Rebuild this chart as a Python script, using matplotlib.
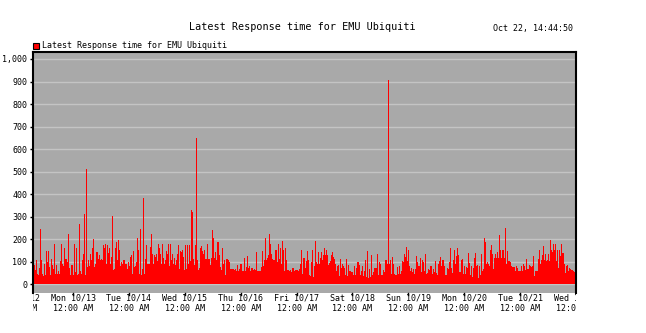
import matplotlib
matplotlib.use("Agg")
import matplotlib.pyplot as plt
from matplotlib.patches import Rectangle
from matplotlib.transforms import Bbox, TransformedBbox
from matplotlib.ticker import FuncFormatter

# response time samples (ms), read left to right off the chart
seg_sun_mon = [65, 85, 65, 107, 45, 40, 75, 245, 107, 48, 37, 90, 40, 150, 100, 147,
               77, 40, 115, 85, 70, 180, 48, 85, 48, 62, 45, 103, 180, 90, 80, 163,
               115, 115, 100, 223, 75, 40, 85, 40, 180, 55, 163, 40, 48, 270, 62, 45,
               107, 137, 312, 40, 510, 77, 110, 80, 134, 107, 160, 200, 77, 90, 143, 143,
               115, 130, 110, 115, 107, 177, 163, 180, 92, 174, 140, 160, 92, 122, 303, 65,
               70, 163, 189, 110, 199, 155, 80, 100, 92, 107, 107, 90, 90, 70, 100, 80,
               122, 130, 45, 150, 77, 80, 100, 204, 155, 45, 245, 40]
seg_tue_wed = [67, 383, 48, 115, 174, 90, 92, 167, 223, 137, 92, 130, 122, 137, 104, 179,
               160, 134, 90, 179, 119, 92, 107, 149, 134, 180, 80, 180, 110, 134, 90, 119,
               85, 107, 134, 174, 70, 149, 144, 152, 122, 65, 174, 70, 174, 90, 174, 104,
               330, 323, 115, 85, 174, 650, 107, 65, 75, 163, 170, 149, 137, 155, 115, 115,
               179, 115, 113, 85, 119, 241, 204, 119, 144, 107, 189, 189, 130, 77, 65, 163,
               92, 110, 40, 115, 107, 100, 70, 70, 70, 70, 65, 70, 62, 85, 62, 70,
               90, 90, 60, 60, 117, 60, 77, 125, 75, 80]
seg_thu_fri = [62, 75, 75, 65, 70, 65, 143, 60, 62, 62, 62, 77, 149, 80, 110, 208,
               110, 119, 130, 226, 179, 137, 115, 110, 110, 155, 152, 100, 179, 115, 160, 92,
               192, 155, 62, 160, 110, 65, 65, 62, 65, 55, 75, 75, 62, 65, 65, 65,
               58, 70, 92, 152, 45, 119, 75, 104, 149, 110, 40, 36, 100, 152, 33, 80,
               192, 100, 90, 143, 90, 119, 144, 107, 130, 160, 130, 152, 130, 85, 95, 103,
               130, 144, 122, 115, 90, 62, 80, 85, 36, 115, 75, 90, 80, 75, 40, 115,
               36, 85, 62, 60, 55, 55, 40, 80, 40, 75, 100]
seg_sat_sun = [100, 85, 40, 62, 80, 36, 58, 110, 33, 147, 30, 70, 33, 132, 40, 55,
               75, 75, 75, 134, 40, 100, 90, 40, 65, 55, 107, 110, 92, 905, 92, 110,
               45, 122, 92, 48, 40, 43, 77, 48, 80, 45, 60, 104, 100, 137, 122, 167,
               104, 155, 80, 62, 75, 55, 70, 48, 70, 125, 100, 80, 80, 119, 55, 107,
               100, 62, 137, 48, 51, 70, 65, 80, 80, 45, 70, 55, 104, 51, 40, 92,
               104, 122, 80, 107, 110, 80, 40, 40, 75, 70, 100, 160, 75, 51, 107, 155,
               92, 125, 163, 130, 55, 107, 115, 48, 80, 48, 77]
seg_mon_wed = [75, 140, 95, 40, 80, 33, 75, 119, 140, 80, 85, 30, 80, 40, 134, 62,
               70, 208, 189, 90, 100, 90, 80, 152, 174, 134, 70, 119, 134, 119, 144, 119,
               219, 155, 119, 155, 152, 119, 249, 92, 149, 104, 104, 100, 80, 77, 77, 77,
               62, 80, 75, 62, 62, 62, 80, 62, 90, 80, 65, 112, 70, 70, 85, 80,
               77, 80, 125, 36, 60, 60, 115, 155, 92, 107, 130, 170, 110, 137, 104, 110,
               134, 104, 199, 155, 144, 179, 155, 180, 104, 155, 75, 155, 125, 180, 140, 140,
               90, 51, 80, 85, 60, 75, 70, 65, 65, 60, 55, 51]

day_ticks = [-1, 0, 1, 2, 3, 4, 5, 6, 7, 8, 9]
day_names = ["Sun 10/12", "Mon 10/13", "Tue 10/14", "Wed 10/15", "Thu 10/16", "Fri 10/17",
             "Sat 10/18", "Sun 10/19", "Mon 10/20", "Tue 10/21", "Wed 10/22"]
y_ticks = [0, 100, 200, 300, 400, 500, 600, 700, 800, 900, 1000]

series = seg_sun_mon + seg_tue_wed + seg_thu_fri + seg_sat_sun + seg_mon_wed

t_start, t_end = -0.716, 9.0
step = (t_end - t_start) / len(series)
times = [t_start + i * step for i in range(len(series))]

mono = "DejaVu Sans Mono"
fig = plt.figure(figsize=(6.46, 3.33), dpi=100)
ax = fig.add_axes([33 / 646, 40 / 333, 543 / 646, 241 / 333])
ax.set_facecolor("#a9a9a9")

ax.bar(times, series, width=step, align="edge", color="#ff0000", linewidth=0, zorder=2)

ax.set_xlim(t_start, t_end)
ax.set_ylim(-37.7, 1031)
ax.set_yticks(y_ticks)
ax.yaxis.set_major_formatter(FuncFormatter(lambda v, p: f"{int(v):,}"))
ax.grid(axis="y", color="#c4c4c4", linewidth=1, zorder=1)
ax.tick_params(axis="y", length=2, width=1, pad=2, labelsize=6)
for lab in ax.get_yticklabels():
    lab.set_family(mono)
ax.set_xticks([])

for side in ["left", "top", "right"]:
    ax.spines[side].set_color("black")
    ax.spines[side].set_linewidth(1.5)
ax.spines["bottom"].set_visible(False)

# day labels, clipped to the width of the plot (as in the original)
clip = TransformedBbox(Bbox([[0, -0.5], [1, 0]]), ax.transAxes)
xform = ax.get_xaxis_transform()
for d, name in zip(day_ticks, day_names):
    for yy, txt in [(-0.004, name), (-0.046, "12:00 AM")]:
        t = ax.text(d, yy, txt, transform=xform, ha="center", va="top",
                    fontsize=6, family=mono, clip_on=True)
        t.set_clip_box(clip)
    if t_start < d < t_end:
        ax.plot([d, d], [-0.01, 0.0], transform=xform, color="black",
                linewidth=1, clip_on=False)

fig.text(302 / 646, 1 - 27 / 333, "Latest Response time for EMU Ubiquiti",
         ha="center", va="center", fontsize=7.3, family=mono)
fig.text(573 / 646, 1 - 29 / 333, "Oct 22, 14:44:50",
         ha="right", va="center", fontsize=6, family=mono)

fig.patches.append(Rectangle((33 / 646, 1 - 49 / 333), 6 / 646, 6 / 333,
                             transform=fig.transFigure, facecolor="#ff0000",
                             edgecolor="black", linewidth=0.8))
fig.text(42 / 646, 1 - 45 / 333, "Latest Response time for EMU Ubiquiti",
         ha="left", va="center", fontsize=6, family=mono)

fig.savefig("out.png", dpi=100)
